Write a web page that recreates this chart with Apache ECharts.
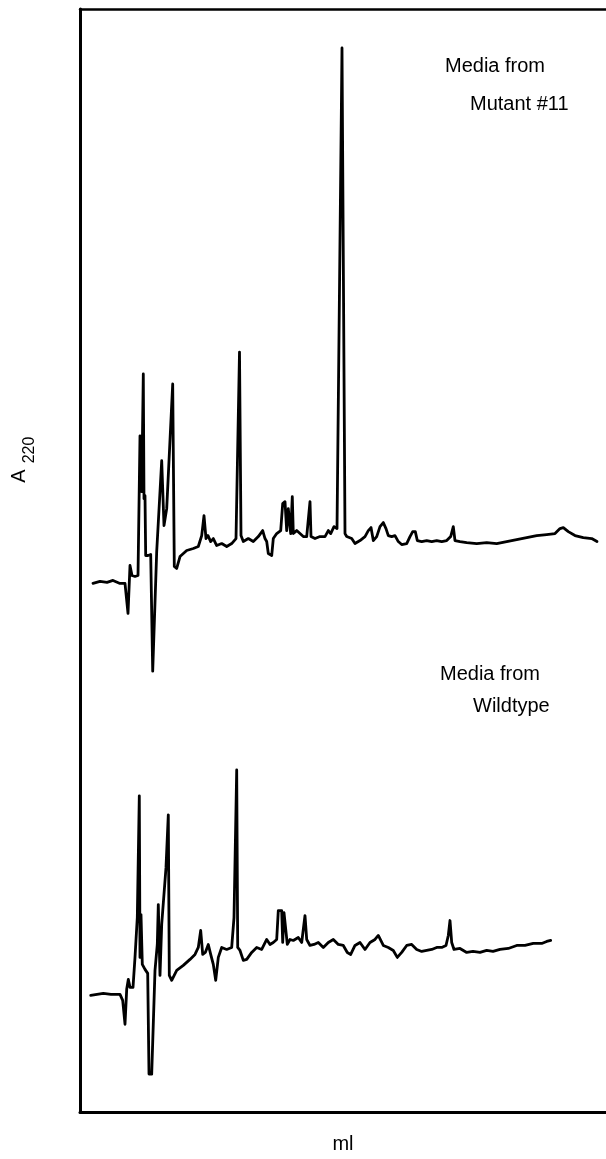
<!DOCTYPE html>
<html>
<head>
<meta charset="utf-8">
<script src="https://cdn.jsdelivr.net/npm/echarts@6/dist/echarts.min.js"></script>
<style>
html,body{margin:0;padding:0;background:#fff;}
#chart{width:606px;height:1159px;}
</style>
</head>
<body>
<div id="chart"></div>
<script>
// Elution volume (arbitrary ml units) and absorbance A220 (arbitrary units)
var mutantTrace = [
[13,530],[20,532],[27,531],[33,533],[40,530],[45,530],[48,500],[50,548],[52,538],[55,537],[58,538],
[60,678],[61.7,622],[63.3,740],[64,615],[65,618],[65.7,558],[68,558],[70.7,559],[72.7,442],[76.7,562],
[81.7,653],[84,588],[86.7,605],[92.7,730],[94.3,547],[96.7,545],[100,557],[106.7,563],[113.3,565],
[118.3,567],[121.7,578],[124,598],[126,575],[128,578],[130.7,572],[133.3,575],[136.7,568],[141.7,570],
[146.7,567],[151.7,570],[156,575],[159.5,762],[161,578],[163.3,572],[168.3,575],[173.3,572],[178.3,577],
[182.7,583],[185,575],[186.7,572],[188.3,560],[191.7,558],[193.3,575],[196.7,580],[200.7,583],[202.7,610],
[205,612],[206.7,583],[208.3,605],[210.7,580],[212.3,617],[213.3,580],[216.7,583],[220,580],[223.3,577],
[226.7,577],[230,612],[231,577],[235,575],[240,577],[245,577],[248.3,583],[250.7,580],[254,587],[257,585],
[262,1067],[265,580],[266.7,577],[271.7,575],[275,570],[280,573],[285,577],[288.3,583],[291,586],[293.3,573],
[296.7,577],[300,587],[303.3,591],[306,585],[308.3,578],[311.7,577],[315,578],[318.3,572],[321.7,569],
[326.7,570],[330,577],[332.7,582],[335.3,582],[337.3,573],[341.7,572],[346.7,573],[351.7,572],[356.7,573],
[361.7,572],[366.7,573],[370.7,577],[373.3,587],[375,573],[380,572],[386.7,571],[396.7,570],[406.7,571],
[416.7,570],[426.7,572],[436.7,574],[446.7,576],[456.7,578],[466.7,579],[475,580],[480,585],[483.3,586],
[488.3,582],[495,578],[503.3,576],[511.7,575],[517,572]
];
var wildtypeTrace = [
[10.7,117],[17,118],[23.3,119],[31,118],[40,118],[42.7,112],[45,88],[46.7,123],[48.3,133],[50,125],[53,125],
[55,155],[57.3,195],[59.3,317],[60,155],[61,198],[62.3,148],[65,143],[67.7,139],[69,38],[71.7,38],[75,142],
[77.3,168],[78.3,208],[80,137],[81.7,188],[86,245],[88.3,298],[89.3,137],[91.7,132],[96.7,142],[103.3,147],
[110,153],[115,158],[118.3,165],[120.7,182],[122.7,158],[125.3,160],[128.3,168],[130.7,158],[133.3,148],
[135.7,132],[138.3,155],[141.7,165],[146.7,163],[151.7,165],[154,195],[156.7,343],[157.7,165],[160,162],
[163.3,152],[166.7,153],[171.7,160],[176.7,165],[181.7,163],[186.7,173],[190,168],[193.3,170],[196.7,173],
[198.3,202],[201.7,202],[202.7,170],[204,200],[206,200],[207.3,168],[210,173],[213.3,172],[218.3,175],
[221.7,170],[225,197],[226.7,173],[230,167],[234,168],[238.3,170],[243.3,165],[248.3,170],[253.3,173],
[258.3,168],[263.3,167],[267.3,160],[270.7,158],[275,167],[280,170],[285,163],[290,170],[295,173],[298.3,177],
[303.3,167],[308.3,165],[313.3,162],[317.3,155],[321.7,160],[326.7,167],[331.7,168],[336.7,163],[341.7,161],
[346.7,162],[351.7,163],[356.7,165],[361.7,165],[366,167],[368.3,177],[370,192],[371.7,170],[374,163],
[380,164],[386.7,160],[393,161],[400,160],[406.7,162],[413,161],[420,163],[428.3,164],[436.7,167],[445,167],
[453.3,169],[461.7,169],[466.7,171],[470.7,172]
];
var traceLabels = [["Media from", "Mutant #11"], ["Media from", "Wildtype"]];
var xAxisTitle = "ml";
var yAxisTitle = ["A", "220"];

var chart = echarts.init(document.getElementById('chart'), null, {renderer: 'canvas'});
var font = '"Liberation Sans", Arial, Helvetica, sans-serif';
function txt(s, x, y, size, align, rot) {
  return {type: 'text', x: x, y: y, rotation: rot || 0,
    style: {text: s, fill: '#000', font: size + 'px ' + font, align: align || 'left', verticalAlign: 'middle'}};
}
var option = {
  animation: false,
  backgroundColor: '#fff',
  grid: {left: 80, right: 0, top: 9, bottom: 44},
  xAxis: [
    {type: 'value', min: 0, max: 526, position: 'bottom',
     name: xAxisTitle, nameLocation: 'middle', nameGap: 22,
     nameTextStyle: {color: '#000', fontSize: 20, fontFamily: font},
     axisLine: {show: true, onZero: false, lineStyle: {color: '#000', width: 3}},
     axisTick: {show: false}, axisLabel: {show: false}, splitLine: {show: false}},
    {type: 'value', min: 0, max: 526, position: 'top',
     axisLine: {show: true, onZero: false, lineStyle: {color: '#000', width: 2.5}},
     axisTick: {show: false}, axisLabel: {show: false}, splitLine: {show: false}}
  ],
  yAxis: {type: 'value', min: 0, max: 1106,
     axisLine: {show: true, onZero: false, lineStyle: {color: '#000', width: 3}},
     axisTick: {show: false}, axisLabel: {show: false}, splitLine: {show: false}},
  series: [
    {type: 'line', name: traceLabels[0].join(' '), data: mutantTrace, showSymbol: false,
     lineStyle: {color: '#000', width: 2.8, join: 'round', cap: 'round'}},
    {type: 'line', name: traceLabels[1].join(' '), data: wildtypeTrace, showSymbol: false,
     lineStyle: {color: '#000', width: 2.8, join: 'round', cap: 'round'}}
  ],
  graphic: [
    txt(traceLabels[0][0], 445, 66, 20),
    txt(traceLabels[0][1], 470, 104, 20),
    txt(traceLabels[1][0], 440, 674, 20),
    txt(traceLabels[1][1], 473, 706, 20),
    txt(yAxisTitle[0], 19, 476, 20, 'center', Math.PI / 2),
    txt(yAxisTitle[1], 30, 450, 16, 'center', Math.PI / 2)
  ]
};
chart.setOption(option);
</script>
</body>
</html>
